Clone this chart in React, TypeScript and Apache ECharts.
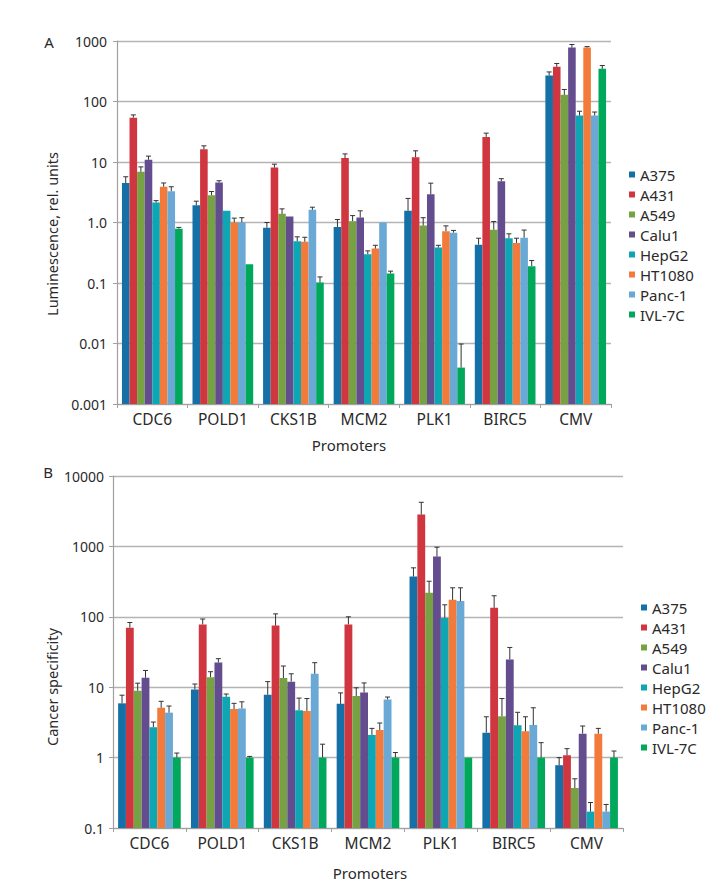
import React, { useEffect, useRef } from 'react';
import * as echarts from 'echarts';

const promoters = ['CDC6', 'POLD1', 'CKS1B', 'MCM2', 'PLK1', 'BIRC5', 'CMV'];
const cellLines = ['A375', 'A431', 'A549', 'Calu1', 'HepG2', 'HT1080', 'Panc-1', 'IVL-7C'];
const colors = ['#1470a6', '#d0363f', '#76a244', '#634d8e', '#0fa6b4', '#f27a3b', '#6aa8d6', '#00a85c'];

// Panel A: luminescence (rel. units), rows = cell lines, columns = promoters
const lumValues = [
  [4.5, 1.93, 0.82, 0.84, 1.56, 0.43, 269],
  [54, 16.3, 8.1, 11.6, 12, 26, 374],
  [6.9, 2.83, 1.39, 1.05, 0.89, 0.76, 129],
  [10.9, 4.6, 1.26, 1.21, 2.94, 4.8, 781],
  [2.14, 1.56, 0.49, 0.3, 0.386, 0.55, 58.7],
  [3.9, 1.0, 0.48, 0.37, 0.72, 0.46, 781],
  [3.3, 1.0, 1.62, 1.0, 0.68, 0.56, 58.7],
  [0.79, 0.205, 0.102, 0.144, 0.004, 0.19, 347],
];
const lumErrTop = [
  [5.7, 2.25, 1.0, 1.12, 2.5, 0.55, 308],
  [60, 18.5, 9.2, 13.6, 15.3, 30, 425],
  [8.3, 3.25, 1.68, 1.3, 1.2, 1.04, 158],
  [12.5, 4.9, 1.28, 1.56, 4.47, 5.3, 875],
  [2.3, 1.6, 0.58, 0.34, 0.42, 0.65, 69],
  [4.5, 1.18, 0.57, 0.42, 0.88, 0.55, 808],
  [3.9, 1.2, 1.79, 1.0, 0.74, 0.75, 67],
  [0.83, 0.205, 0.126, 0.157, 0.0098, 0.235, 393],
];

// Panel B: cancer specificity
const specValues = [
  [5.9, 9.3, 7.8, 5.8, 373, 2.26, 0.78],
  [70, 78, 75, 78, 2830, 134, 1.08],
  [8.9, 13.9, 13.5, 7.5, 219, 3.86, 0.37],
  [13.6, 22.5, 12, 8.4, 717, 24.8, 2.19],
  [2.7, 7.3, 4.7, 2.1, 96, 2.87, 0.171],
  [5.1, 4.9, 4.6, 2.47, 174, 2.36, 2.19],
  [4.35, 5.0, 15.5, 6.7, 167, 2.9, 0.171],
  [1, 1, 1, 1, 1, 1, 1],
];
const specErrTop = [
  [7.7, 11.1, 12.0, 8.3, 496, 3.8, 1.0],
  [83, 93, 110, 100, 4230, 199, 1.34],
  [11.4, 16.6, 20, 9.8, 320, 6.9, 0.5],
  [17.3, 25.4, 15.5, 11.5, 973, 36.7, 2.81],
  [3.2, 8.0, 7.0, 2.6, 148, 4.4, 0.23],
  [6.3, 5.9, 6.9, 3.1, 258, 3.8, 2.6],
  [5.4, 6.2, 22.3, 7.25, 258, 5.1, 0.216],
  [1.16, 1.04, 1.55, 1.18, 1, 1.63, 1.24],
];

const lumTickLabels: Record<string, string> = {
  '0.001': '0.001', '0.01': '0.01', '0.1': '0.1', '1': '1.0', '10': '10', '100': '100', '1000': '1000',
};
const specTickLabels: Record<string, string> = {
  '0.1': '0.1', '1': '1', '10': '10', '100': '100', '1000': '1000', '10000': '10000',
};

const FONT = '"Noto Sans"';
const TEXT = '#2a2a2a';

function makeRender(seriesIdx: number, axisMin: number) {
  return (params: any, api: any) => {
    const cat = api.value(0);
    const val = api.value(1);
    const err = api.value(2);
    const cs = params.coordSys;
    const band = cs.width / promoters.length;
    const groupW = band * 0.86;
    const barW = groupW / cellLines.length;
    const pt = api.coord([cat, val]);
    const base = api.coord([cat, axisMin]);
    const x0 = pt[0] - groupW / 2 + seriesIdx * barW;
    const top = pt[1];
    const errY = api.coord([cat, err])[1];
    const mid = x0 + barW / 2;
    const children: any[] = [
      {
        type: 'rect',
        shape: { x: x0, y: top, width: barW, height: base[1] - top },
        style: { fill: colors[seriesIdx] },
      },
    ];
    if (errY < top - 0.8) {
      children.push({
        type: 'line',
        shape: { x1: mid, y1: top, x2: mid, y2: errY },
        style: { stroke: '#333', lineWidth: 1 },
      });
      children.push({
        type: 'line',
        shape: { x1: mid - 2.5, y1: errY, x2: mid + 2.5, y2: errY },
        style: { stroke: '#333', lineWidth: 1 },
      });
    }
    return { type: 'group', children };
  };
}

function buildSeries(values: number[][], errs: number[][], gridIdx: number, axisMin: number) {
  return cellLines.map((name, i) => ({
    type: 'custom',
    name,
    xAxisIndex: gridIdx,
    yAxisIndex: gridIdx,
    itemStyle: { color: colors[i] },
    encode: { x: 0, y: 1 },
    renderItem: makeRender(i, axisMin),
    clip: true,
    data: promoters.map((_, c) => [c, values[i][c], errs[i][c]]),
  }));
}

function catAxis(gridIndex: number) {
  return {
    type: 'category',
    gridIndex,
    data: promoters,
    boundaryGap: true,
    axisLine: { show: true, lineStyle: { color: '#a0a0a0', width: 1.2 } },
    axisTick: { show: true, length: 4, lineStyle: { color: '#a0a0a0' } },
    axisLabel: { fontFamily: FONT, fontSize: 15.5, color: TEXT, margin: 7 },
    splitLine: { show: false },
  };
}

function logAxis(gridIndex: number, min: number, max: number, labels: Record<string, string>, margin: number) {
  return {
    type: 'log',
    logBase: 10,
    gridIndex,
    min,
    max,
    axisLine: { show: true, lineStyle: { color: '#a0a0a0', width: 1.2 } },
    axisTick: { show: true, length: 4, lineStyle: { color: '#a0a0a0' } },
    axisLabel: {
      fontFamily: FONT,
      fontSize: 14,
      color: TEXT,
      margin,
      formatter: (v: number) => {
        const key = String(Number(v.toPrecision(6)));
        return labels[key] ?? key;
      },
    },
    splitLine: { show: true, lineStyle: { color: '#b4b4b4', width: 1.3 } },
    minorTick: { show: false },
  };
}

function legend(left: number, top: number) {
  return {
    orient: 'vertical',
    left,
    top,
    icon: 'rect',
    itemWidth: 6,
    itemHeight: 6,
    itemGap: 5,
    selectedMode: false,
    data: cellLines,
    textStyle: { fontFamily: FONT, fontSize: 15, color: TEXT, lineHeight: 15, padding: [0, 0, 0, 0] },
  };
}

export default function App() {
  const ref = useRef<HTMLDivElement>(null);
  useEffect(() => {
    if (!ref.current) return;
    const chart = echarts.init(ref.current, null, { renderer: 'svg' });
    chart.setOption({
      animation: false,
      backgroundColor: '#ffffff',
      grid: [
        { left: 117, top: 41, width: 494, height: 363 },
        { left: 113, top: 476, width: 510, height: 352 },
      ],
      xAxis: [catAxis(0), catAxis(1)],
      yAxis: [
        logAxis(0, 0.001, 1000, lumTickLabels, 10),
        logAxis(1, 0.1, 10000, specTickLabels, 9),
      ],
      legend: [legend(624, 162), legend(636, 595)],
      series: [
        ...buildSeries(lumValues, lumErrTop, 0, 0.001),
        ...buildSeries(specValues, specErrTop, 1, 0.1),
      ],
      graphic: [
        { type: 'text', x: 49, y: 42, style: { text: 'A', font: `15px ${FONT}`, fill: TEXT, align: 'center', verticalAlign: 'middle' } },
        { type: 'text', x: 48, y: 472, style: { text: 'B', font: `15px ${FONT}`, fill: TEXT, align: 'center', verticalAlign: 'middle' } },
        {
          type: 'text', x: 52, y: 234, rotation: Math.PI / 2,
          style: { text: 'Luminescence, rel. units', font: `14.5px ${FONT}`, fill: TEXT, align: 'center', verticalAlign: 'middle' },
        },
        {
          type: 'text', x: 52, y: 687, rotation: Math.PI / 2,
          style: { text: 'Cancer specificity', font: `14.5px ${FONT}`, fill: TEXT, align: 'center', verticalAlign: 'middle' },
        },
        { type: 'text', x: 349, y: 445, style: { text: 'Promoters', font: `15px ${FONT}`, fill: TEXT, align: 'center', verticalAlign: 'middle' } },
        { type: 'text', x: 370, y: 873, style: { text: 'Promoters', font: `15px ${FONT}`, fill: TEXT, align: 'center', verticalAlign: 'middle' } },
      ],
    });
    return () => chart.dispose();
  }, []);
  return (
    <div
      ref={ref}
      style={{ position: 'absolute', left: 0, top: 0, width: 728, height: 888, background: '#fff' }}
    />
  );
}
